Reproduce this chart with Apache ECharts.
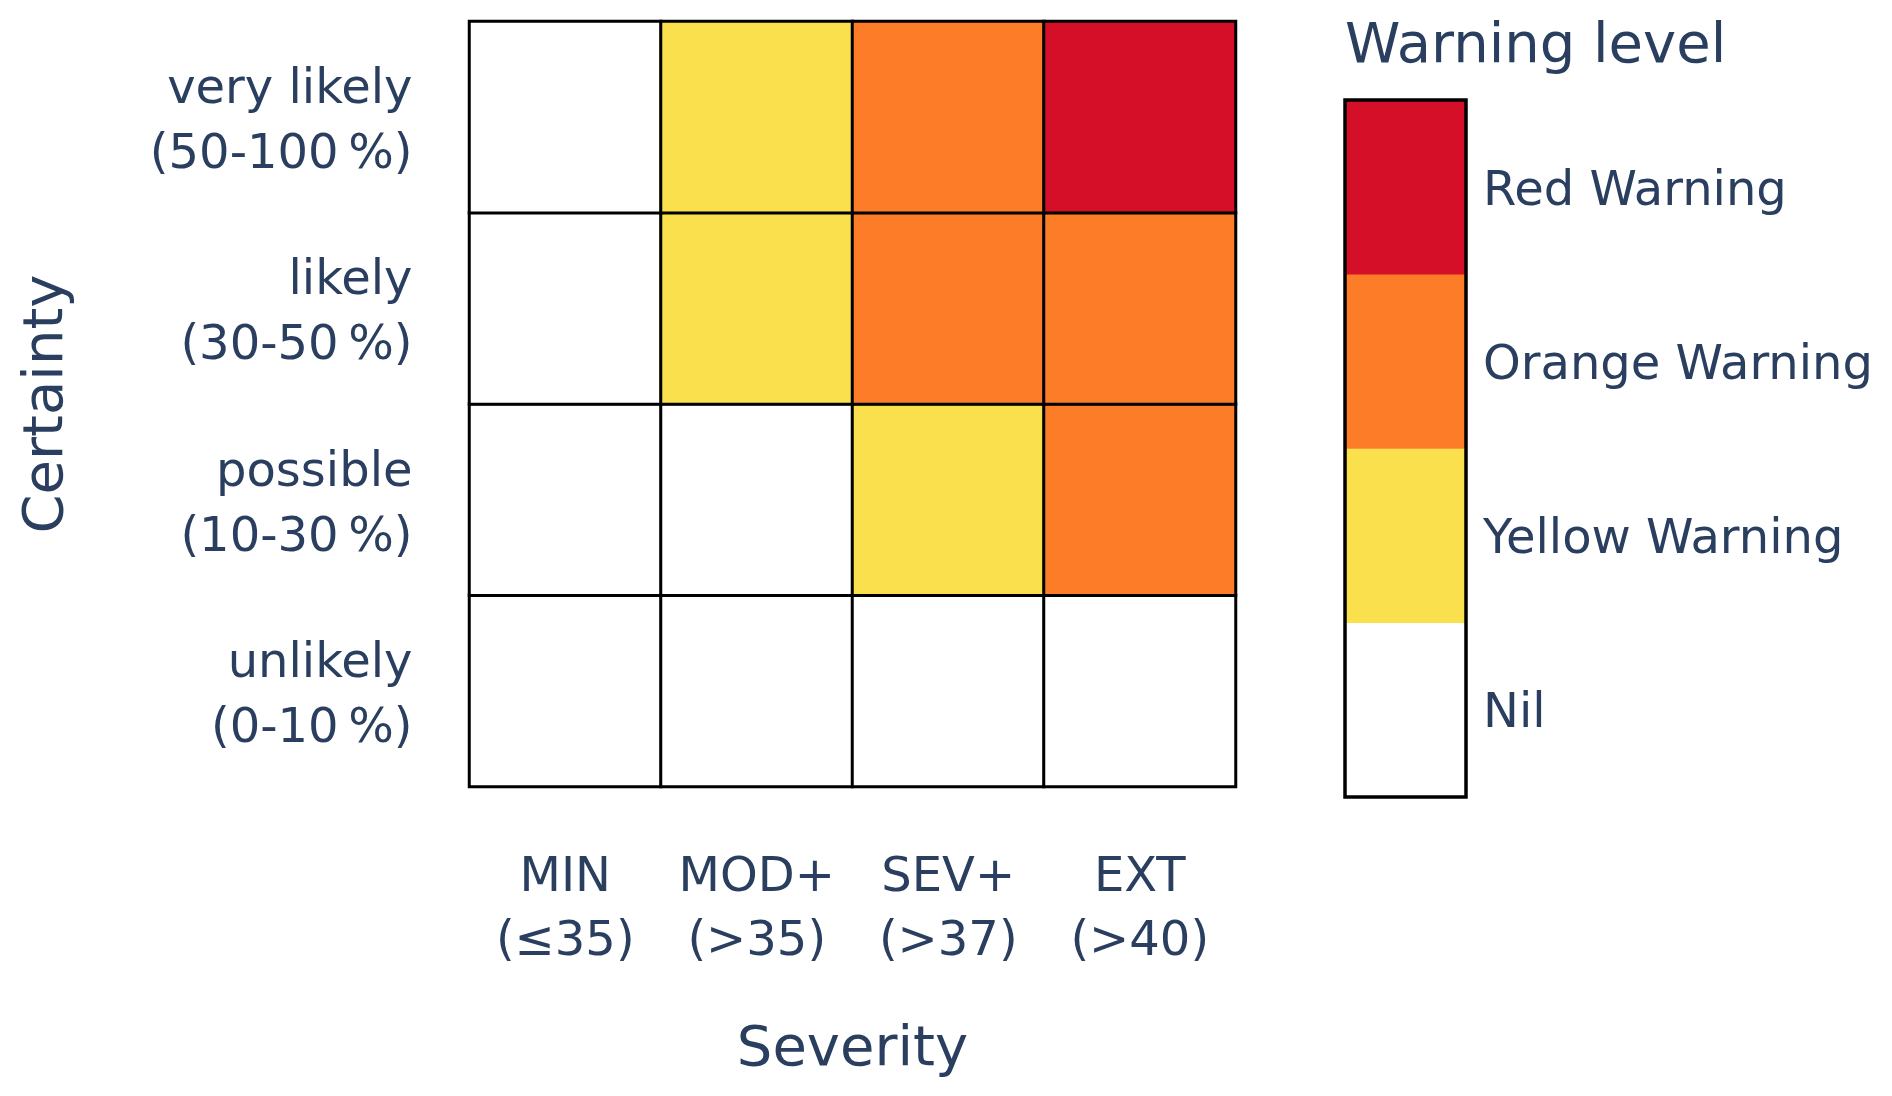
<!DOCTYPE html>
<html>
<head>
<meta charset="utf-8">
<script src="https://cdn.jsdelivr.net/npm/echarts@6/dist/echarts.min.js"></script>
<style>
  html, body { margin: 0; padding: 0; background: #ffffff; }
  #chart { width: 1892px; height: 1096px; }
</style>
</head>
<body>
<div id="chart"></div>
<script>
// ---- data ----
const severityLabels = ['MIN\n(\u226435)', 'MOD+\n(>35)', 'SEV+\n(>37)', 'EXT\n(>40)'];
const certaintyLabels = ['unlikely\n(0-10\u2009%)', 'possible\n(10-30\u2009%)', 'likely\n(30-50\u2009%)', 'very likely\n(50-100\u2009%)'];
// warning level per severity column (0 = Nil, 1 = Yellow, 2 = Orange, 3 = Red)
const levelsUnlikely   = [0, 0, 0, 0];
const levelsPossible   = [0, 0, 1, 2];
const levelsLikely     = [0, 1, 2, 2];
const levelsVeryLikely = [0, 1, 2, 3];
const warningLevels = ['Nil', 'Yellow Warning', 'Orange Warning', 'Red Warning'];
const warningColors = ['#ffffff', '#F9E04C', '#FC7C28', '#D50F28'];

const rows = [levelsUnlikely, levelsPossible, levelsLikely, levelsVeryLikely];
const heatData = [];
rows.forEach((row, y) => row.forEach((v, x) => heatData.push([x, y, v])));
const barData = warningLevels.map((_, i) => [0, i, i]);

const textColor = '#2a3f5f';
const fontFamily = '"DejaVu Sans", Verdana, sans-serif';

// a small invisible spacer line above the label nudges the centred text block down
function withSpacer(v) {
  return '{s|\u200b}\n' + v.split('\n').map(l => '{t|' + l + '}').join('\n');
}

const chart = echarts.init(document.getElementById('chart'));
chart.setOption({
  backgroundColor: '#ffffff',
  animation: false,
  textStyle: { fontFamily: fontFamily, color: textColor },
  graphic: [{
    type: 'text',
    left: 1345,
    top: 19,
    style: { text: 'Warning level', fontSize: 56, fontFamily: fontFamily, fill: textColor }
  }],
  grid: [
    { left: 469.5, top: 21.5, width: 766, height: 765 },
    { left: 1345, top: 100, width: 121, height: 697, show: true, borderColor: '#000', borderWidth: 3.5, z: 10, backgroundColor: 'transparent' }
  ],
  xAxis: [
    {
      type: 'category', gridIndex: 0, data: severityLabels,
      axisLine: { show: false }, axisTick: { show: false }, splitLine: { show: false },
      axisLabel: { interval: 0, fontSize: 48, lineHeight: 64, margin: 60, color: textColor, fontFamily: fontFamily },
      name: 'Severity', nameLocation: 'middle', nameGap: 264,
      nameTextStyle: { fontSize: 56, color: textColor, verticalAlign: 'middle', fontFamily: fontFamily }
    },
    { type: 'category', gridIndex: 1, data: ['bar'], show: false }
  ],
  yAxis: [
    {
      type: 'category', gridIndex: 0, data: certaintyLabels,
      axisLine: { show: false }, axisTick: { show: false }, splitLine: { show: false },
      axisLabel: {
        interval: 0, margin: 57, color: textColor, align: 'right', fontFamily: fontFamily,
        formatter: withSpacer,
        rich: {
          s: { fontSize: 1, lineHeight: 12, height: 12 },
          t: { fontSize: 48, lineHeight: 65, color: textColor, fontFamily: fontFamily, align: 'right' }
        }
      },
      name: 'Certainty', nameLocation: 'middle', nameGap: 422,
      nameTextStyle: { fontSize: 56, color: textColor, verticalAlign: 'middle', fontFamily: fontFamily }
    },
    {
      type: 'category', gridIndex: 1, data: warningLevels, position: 'right',
      axisLine: { show: false }, axisTick: { show: false }, splitLine: { show: false },
      axisLabel: {
        interval: 0, margin: 17, color: textColor, fontFamily: fontFamily,
        formatter: withSpacer,
        rich: {
          s: { fontSize: 1, lineHeight: 10, height: 10 },
          t: { fontSize: 48, lineHeight: 56, color: textColor, fontFamily: fontFamily }
        }
      }
    }
  ],
  visualMap: {
    type: 'piecewise', show: false, dimension: 2, seriesIndex: [0, 1],
    pieces: warningColors.map((c, i) => ({ value: i, color: c }))
  },
  series: [
    {
      type: 'heatmap', xAxisIndex: 0, yAxisIndex: 0, data: heatData,
      itemStyle: { borderColor: '#000000', borderWidth: 3 },
      emphasis: { disabled: true }
    },
    {
      type: 'heatmap', xAxisIndex: 1, yAxisIndex: 1, data: barData,
      itemStyle: { borderWidth: 0 },
      emphasis: { disabled: true }
    }
  ]
});
</script>
</body>
</html>
